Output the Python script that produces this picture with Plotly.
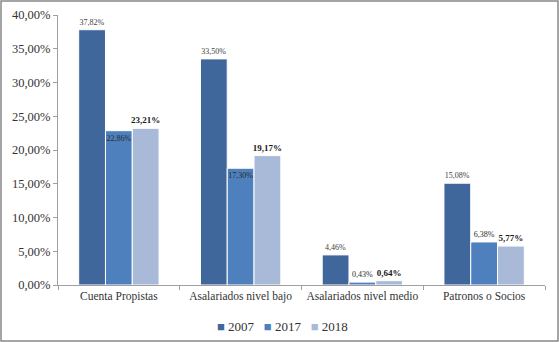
import plotly.graph_objects as go

categories = ["Cuenta Propistas", "Asalariados nivel bajo", "Asalariados nivel medio", "Patronos o Socios"]
years = ["2007", "2017", "2018"]
v2007 = [37.82, 33.50, 4.46, 15.08]
v2017 = [22.86, 17.30, 0.43, 6.38]
v2018 = [23.21, 19.17, 0.64, 5.77]
tick_vals = [0, 5, 10, 15, 20, 25, 30, 35, 40]
tick_text = ["0,00%", "5,00%", "10,00%", "15,00%", "20,00%", "25,00%", "30,00%", "35,00%", "40,00%"]

colors = ["#3F679B", "#4E80BE", "#A9BAD9"]
font_fam = "Liberation Serif, Times New Roman, serif"

fig = go.Figure()
fig.add_trace(go.Bar(
    name=years[0], x=categories, y=v2007, marker=dict(color=colors[0], line=dict(color="white", width=1)),
    texttemplate="%{y:.2f}%", textposition="outside", constraintext="none", cliponaxis=False, textangle=0,
    textfont=dict(family=font_fam, size=8, color="#404040")))
fig.add_trace(go.Bar(
    name=years[1], x=categories, y=v2017, marker=dict(color=colors[1], line=dict(color="white", width=1)),
    texttemplate="%{y:.2f}%", textposition=["inside", "inside", "outside", "outside"],
    insidetextanchor="end", constraintext="none", cliponaxis=False, textangle=0,
    textfont=dict(family=font_fam, size=8, color="#2a2a2a"),
    insidetextfont=dict(family=font_fam, size=8, color="#2a2a2a")))
fig.add_trace(go.Bar(
    name=years[2], x=categories, y=v2018, marker=dict(color=colors[2], line=dict(color="white", width=1)),
    texttemplate="<b>%{y:.2f}%</b>", textposition="outside", constraintext="none", cliponaxis=False, textangle=0,
    textfont=dict(family=font_fam, size=9, color="#1a1a1a")))

L, R, T, B = 58, 14, 15, 57
W, H = 559, 342
pw, ph = W - L - R, H - T - B

legend_text = "&nbsp;&nbsp;&nbsp;".join(
    f"<span style='color:{c}'>■</span>&nbsp;{y}" for c, y in zip(colors, years))

fig.update_layout(
    width=W, height=H,
    margin=dict(l=L, r=R, t=T, b=B, autoexpand=False),
    paper_bgcolor="white", plot_bgcolor="white",
    barmode="group", bargap=0.34, bargroupgap=0,
    separators=",.",
    font=dict(family=font_fam, size=12, color="#333333"),
    showlegend=False,
    annotations=[dict(text=legend_text, xref="paper", yref="paper", x=(282 - L) / pw, y=-(326 - T - ph) / ph,
                      xanchor="center", yanchor="middle", showarrow=False,
                      font=dict(family=font_fam, size=13, color="#333333"))],
    xaxis=dict(showline=True, linecolor="#A0A0A0", linewidth=1, ticks="outside", tickson="boundaries",
               ticklen=4, tickcolor="#A0A0A0", tickangle=0, automargin=False,
               tickfont=dict(family=font_fam, size=11.5, color="#333333"), showgrid=False),
    yaxis=dict(range=[0, 40], tickvals=tick_vals, ticktext=tick_text, automargin=False,
               showline=True, linecolor="#A0A0A0", linewidth=1, ticks="outside", ticklen=4,
               tickcolor="#A0A0A0", tickfont=dict(family=font_fam, size=12.5, color="#333333"),
               showgrid=False, zeroline=False),
    shapes=[dict(type="rect", xref="paper", yref="paper",
                 x0=(1 - L) / pw, x1=(W - 1 - L) / pw,
                 y0=-(H - 1 - T - ph) / ph, y1=(ph + T - 1) / ph,
                 line=dict(color="#888888", width=1.5), fillcolor="rgba(0,0,0,0)", layer="above")],
)

fig.write_html("out.html")
